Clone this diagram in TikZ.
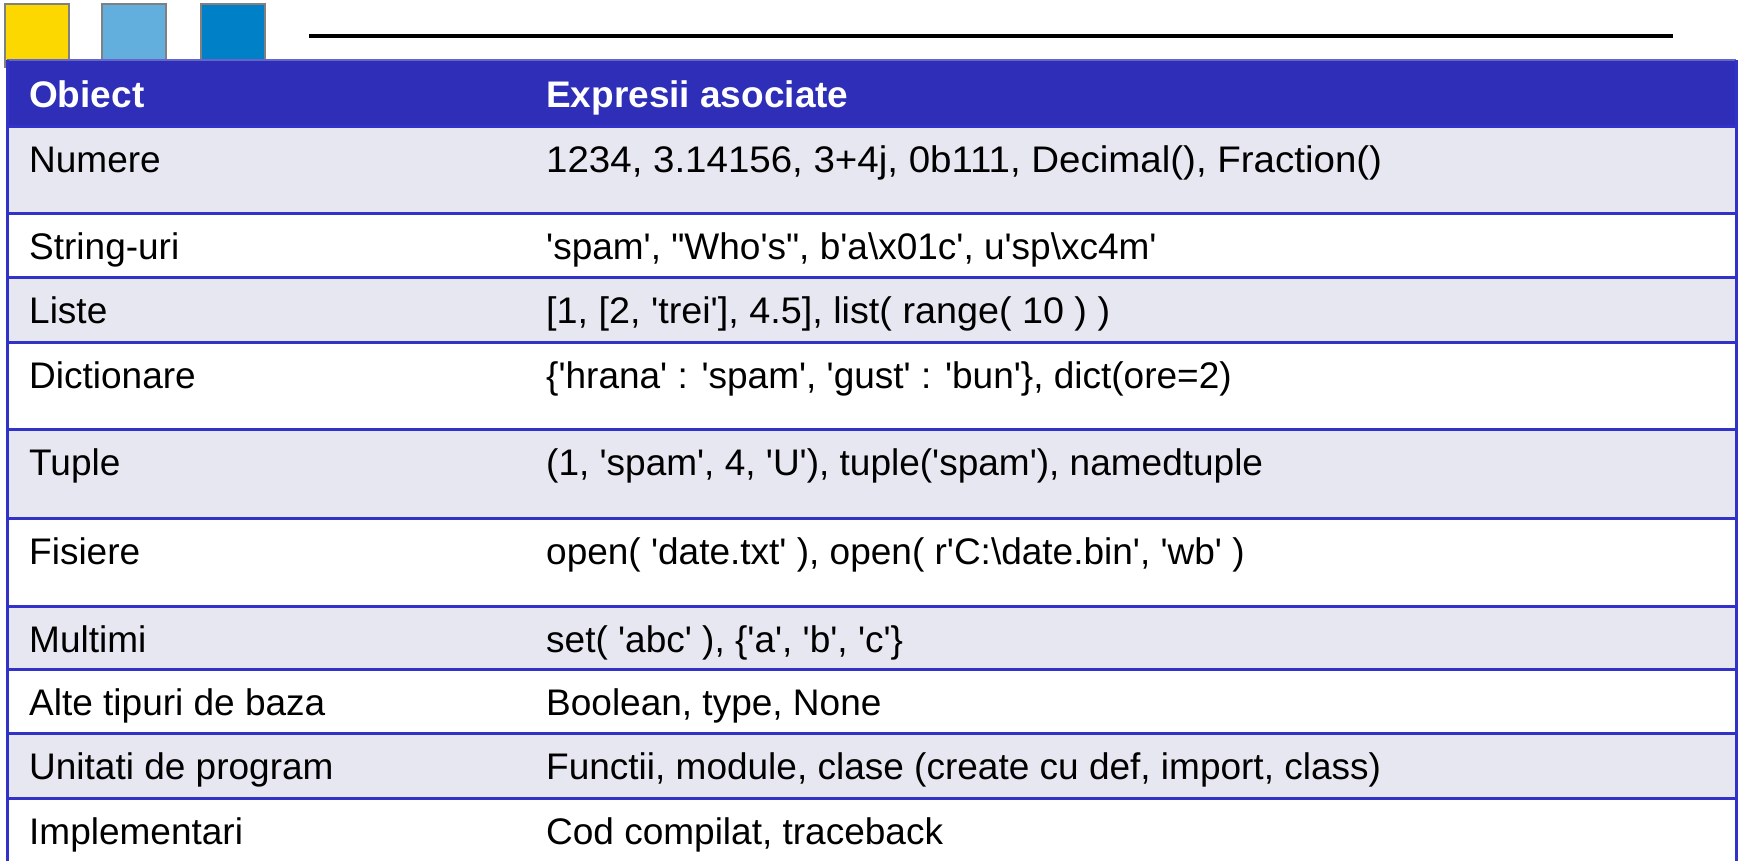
\documentclass[tikz,border=0pt]{standalone}
\usepackage{fontspec}
\setmainfont{Liberation Sans}[Ligatures=TeXOff]
\definecolor{hdr}{RGB}{46,46,184}
\definecolor{rowlt}{RGB}{231,231,241}
\definecolor{rulec}{RGB}{50,50,200}
\definecolor{rulelt}{RGB}{100,100,205}
\definecolor{sqy}{RGB}{252,215,0}
\definecolor{sqlb}{RGB}{98,174,220}
\definecolor{sqdb}{RGB}{0,128,198}
\tikzset{
  cell/.style={anchor=base west, inner sep=0pt, font=\fontsize{37}{41}\selectfont},
  hcell/.style={cell, text=white, font=\fontsize{37}{41}\selectfont\bfseries},
  sq/.style={draw=gray, line width=2pt},
  rowline/.style={draw=rulec, line width=3pt},
}
\begin{document}
\begin{tikzpicture}[x=1pt,y=-1pt]
\useasboundingbox (0,0) rectangle (1738,860);
% squares
\filldraw[sq, fill=sqy] (5,4) rectangle (69,67);
\filldraw[sq, fill=sqlb] (102,4) rectangle (166,67);
\filldraw[sq, fill=sqdb] (201,4) rectangle (265,67);
% top line
\coordinate (l1) at (309,36);
\coordinate (l2) at (1673,36);
\draw[line width=4pt] (l1) -- (l2);
% header
\fill[hdr] (7,60) rectangle (1736,126);
% light rows
\foreach \a/\b in {126/213, 277/342, 429/518, 606/669, 733/798}
  \fill[rowlt] (7,\a) rectangle (1736,\b);
% row lines
\draw[draw=rulelt, line width=2pt] (7,60) -- (1736,60);
\foreach \y in {126,213,277,342,429,518,606,669,733,798}
  \draw[rowline] (7,\y) -- (1736,\y);
\draw[rowline] (7,60) -- (7,862);
\draw[rowline] (1736,60) -- (1736,862);
% header text
\node[hcell] (h1) at (29,107) {Obiect};
\node[hcell] (h2) at (546,107) {Expresii asociate};
% rows
\node[cell] (a1) at (29,172) {Numere};
\node[cell] (b1) at (546,172) {\scalebox{1.04}[1]{1234, 3.14156, 3+4j, 0b111, Decimal(), Fraction()}};
\node[cell] (a2) at (29,259) {String-uri};
\node[cell] (b2) at (546,259) {'spam', "Who's", b'a\textbackslash x01c', u'sp\textbackslash xc4m'};
\node[cell] (a3) at (29,323) {Liste};
\node[cell] (b3) at (546,323) {\scalebox{1.02}[1]{[1, [2, 'trei'], 4.5], list( range( 10 ) )}};
\node[cell] (a4) at (29,388) {Dictionare};
\node[cell] (b4) at (546,388) {\{'hrana' : 'spam', 'gust' : 'bun'\}, dict(ore=2)};
\node[cell] (a5) at (29,475) {Tuple};
\node[cell] (b5) at (546,475) {(1, 'spam', 4, 'U'), tuple('spam'), namedtuple};
\node[cell] (a6) at (29,564) {Fisiere};
\node[cell] (b6) at (546,564) {open( 'date.txt' ), open( r'C:\textbackslash date.bin', 'wb' )};
\node[cell] (a7) at (29,652) {Multimi};
\node[cell] (b7) at (546,652) {set( 'abc' ), \{'a', 'b', 'c'\}};
\node[cell] (a8) at (29,715) {Alte tipuri de baza};
\node[cell] (b8) at (546,715) {Boolean, type, None};
\node[cell] (a9) at (29,779) {Unitati de program};
\node[cell] (b9) at (546,779) {Functii, module, clase (create cu def, import, class)};
\node[cell] (a10) at (29,844) {Implementari};
\node[cell] (b10) at (546,844) {Cod compilat, traceback};
\end{tikzpicture}
\end{document}
